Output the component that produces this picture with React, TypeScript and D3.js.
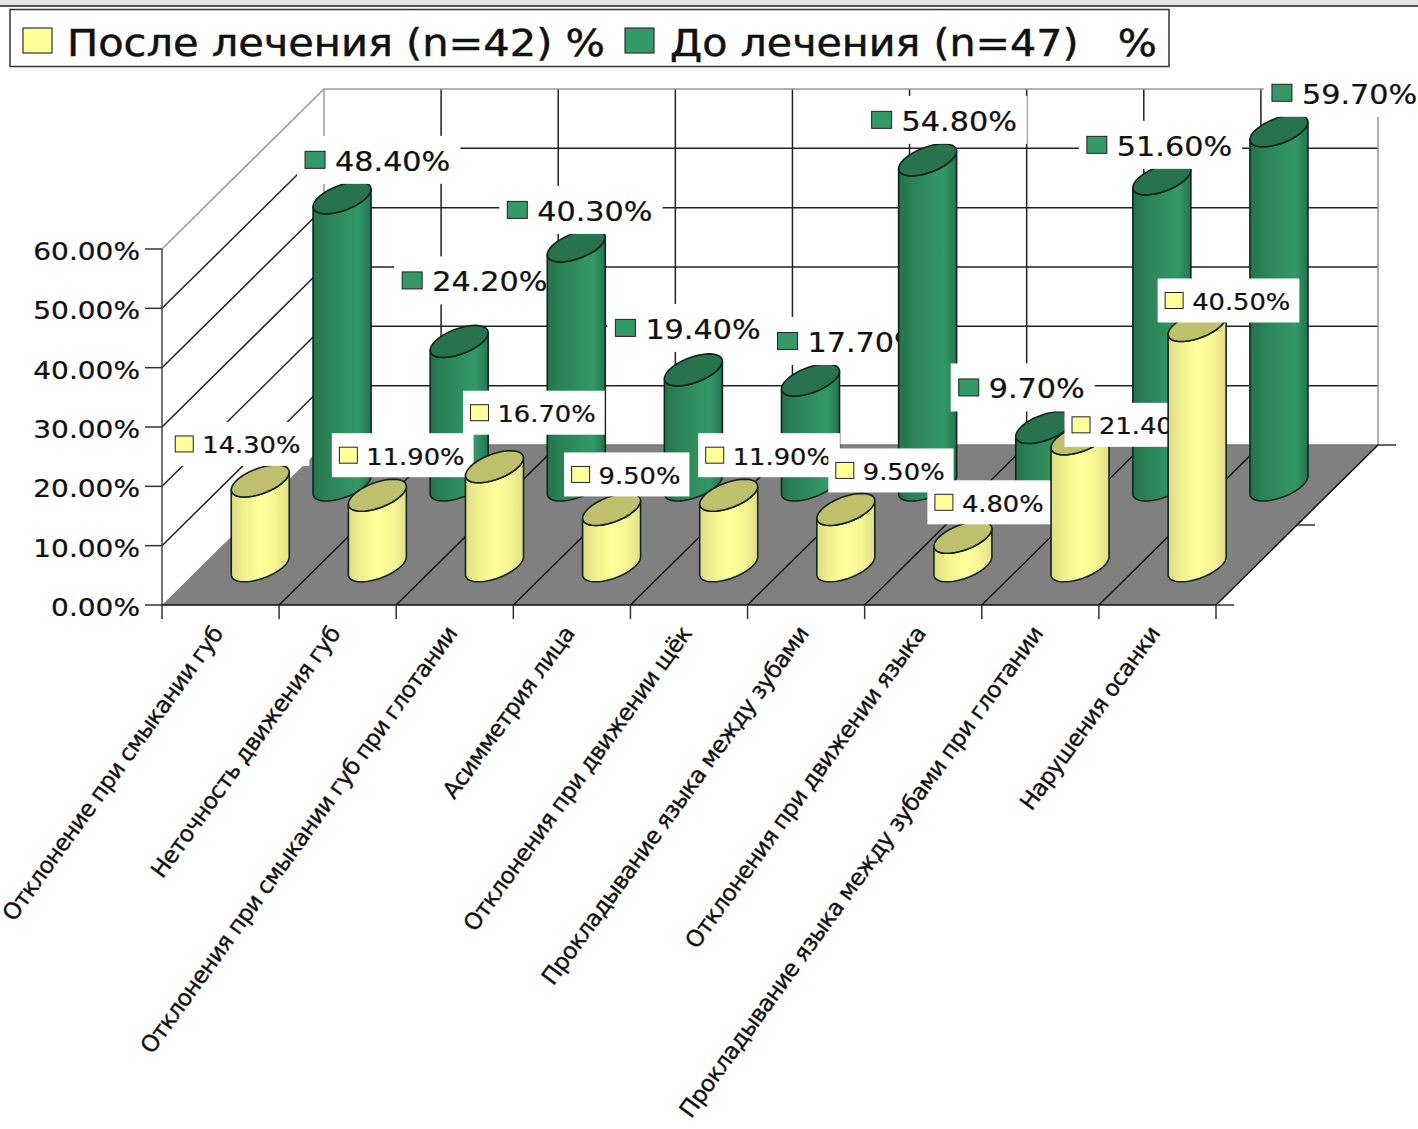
import React from "react";
import * as d3 from "d3";

const categories = [
  "Отклонение при смыкании губ",
  "Неточность движения губ",
  "Отклонения при смыкании губ при глотании",
  "Асимметрия лица",
  "Отклонения при движении щёк",
  "Прокладывание языка между зубами",
  "Отклонения при движении языка",
  "Прокладывание языка между зубами при глотании",
  "Нарушения осанки",
];
const afterValues = [14.3, 11.9, 16.7, 9.5, 11.9, 9.5, 4.8, 21.4, 40.5];
const beforeValues = [48.4, 24.2, 40.3, 19.4, 17.7, 54.8, 9.7, 51.6, 59.7];
const afterName = "После лечения (n=42) %";
const beforeName = "До лечения (n=47)   %";
const valueTicks = [0, 10, 20, 30, 40, 50, 60];

// Hand-placed data label offsets from the top centre of each cylinder.
const afterLabelDx = [-76, -29, -15, -31, -14, -1, -19, 1, -23];
const afterLabelDy = [-37, -40, -54, -35, -40, -39, -35, -14, -25];
const beforeLabelDx = [-27, -47, -59, -68, -23, -46, -76, -65, 3];
const beforeLabelDy = [-38, -61, -36, -42, -39, -40, -40, -34, -38];

const WIDTH = 1418;
const HEIGHT = 1129;
const FONT = "'DejaVu Sans', sans-serif";
const STRETCH = 1.12;

// Oblique projection of the chart box: category, depth and value axes.
const xFront = d3.scaleLinear().domain([0, categories.length]).range([162, 1216]);
const depthX = d3.scaleLinear().domain([0, 1]).range([0, 162]);
const depthY = d3.scaleLinear().domain([0, 1]).range([605, 445]);
const valueH = d3.scaleLinear().domain([0, 60]).range([0, 356]);

const project = (cat: number, depth: number, value: number): [number, number] => [
  xFront(cat) + depthX(depth),
  depthY(depth) - valueH(value),
];
const pathOf = d3.line();
const seg = (a: [number, number], b: [number, number]) => pathOf([a, b]) as string;

const ELL_R = 29;
const ELL_B = 16;
const ELL_A = Math.sqrt(ELL_R * ELL_R - ELL_B * ELL_B);
const T0 = Math.atan2(ELL_B, ELL_A);
const ellipsePoint = (c: [number, number], t: number): [number, number] => [
  c[0] + ELL_A * Math.cos(t) + ELL_B * Math.sin(t),
  c[1] - ELL_B * Math.sin(t),
];
const arc = (c: [number, number], from: number, to: number) =>
  d3.range(0, 41).map((k) => ellipsePoint(c, from + ((to - from) * k) / 40));

function Cylinder({ cat, depth, value, id, top }: { cat: number; depth: number; value: number; id: string; top: string }) {
  const base = project(cat + 0.5, depth, 0);
  const head = project(cat + 0.5, depth, value);
  const side = [...arc(base, T0 - Math.PI, T0), ...arc(head, T0, T0 - Math.PI)];
  const lid = arc(head, 0, Math.PI * 2);
  return (
    <g stroke="#10241a" strokeWidth={1.6} strokeLinejoin="round">
      <path d={pathOf(side) + "Z"} fill={`url(#${id})`} />
      <path d={pathOf(lid) + "Z"} fill={top} />
    </g>
  );
}

function StretchedText({ x, y, size, anchor, children }: { x: number; y: number; size: number; anchor?: string; children: React.ReactNode }) {
  return (
    <text
      transform={`translate(${x},${y}) scale(${STRETCH},1)`}
      fontFamily={FONT}
      fontSize={size}
      fill="#111"
      stroke="#111"
      strokeWidth={0.25}
      textAnchor={anchor ?? "start"}
    >
      {children}
    </text>
  );
}

function DataLabel({ cat, depth, value, dx, dy, big, fill }: { cat: number; depth: number; value: number; dx: number; dy: number; big: boolean; fill: string }) {
  const head = project(cat + 0.5, depth, value);
  const cx = head[0] + dx;
  const cy = head[1] + dy;
  const text = d3.format(".2f")(value) + "%";
  const size = big ? 27 : 23;
  const digits = text.length - 2;
  const textW = (digits * 0.636 + 0.318 + 0.95) * size * STRETCH;
  const textX = cx + (big ? 20 : 18);
  const left = cx - (big ? 18 : 16.5);
  const right = textX + textW + (big ? 10 : 9);
  const boxH = big ? 48 : 44;
  const mw = big ? 20 : 18;
  const mh = big ? 17 : 16;
  return (
    <g>
      <rect x={left} y={cy - boxH / 2} width={right - left} height={boxH} fill="#fff" />
      <rect x={cx - mw / 2} y={cy - mh / 2} width={mw} height={mh} fill={fill} stroke="#222" strokeWidth={1} />
      <StretchedText x={textX} y={cy + size * 0.37 + 1} size={size}>{text}</StretchedText>
    </g>
  );
}

export default function App() {
  const midDepths = [0.5];
  const floor = [project(0, 0, 0), project(categories.length, 0, 0), project(categories.length, 1, 0), project(0, 1, 0)];
  const n = categories.length;
  return (
    <svg width={WIDTH} height={HEIGHT} viewBox={`0 0 ${WIDTH} ${HEIGHT}`} style={{ position: "absolute", left: 0, top: 0, background: "#fff" }}>
      <defs>
        <linearGradient id="afterSide" x1="0" x2="1" y1="0" y2="0">
          <stop offset="0" stopColor="#dcdc82" />
          <stop offset="0.18" stopColor="#eeee8e" />
          <stop offset="0.5" stopColor="#ffff99" />
          <stop offset="0.78" stopColor="#f6f694" />
          <stop offset="1" stopColor="#e0e084" />
        </linearGradient>
        <linearGradient id="beforeSide" x1="0" x2="1" y1="0" y2="0">
          <stop offset="0" stopColor="#22734c" />
          <stop offset="0.2" stopColor="#2a8055" />
          <stop offset="0.55" stopColor="#2f8f5f" />
          <stop offset="0.78" stopColor="#339966" />
          <stop offset="1" stopColor="#237550" />
        </linearGradient>
      </defs>

      {/* window strip above the chart */}
      <rect x={0} y={0} width={WIDTH} height={5} fill="#e6e6e6" />
      <rect x={0} y={5} width={WIDTH} height={2} fill="#555" />

      {/* legend */}
      <rect x={10} y={9.5} width={1159} height={57} fill="#fff" stroke="#333" strokeWidth={1.5} />
      <rect x={23} y={28} width={29} height={25} fill="#ffff99" stroke="#333" strokeWidth={1.2} />
      <text x={67} y={56} fontFamily={FONT} fontSize={37} fill="#111" stroke="#111" strokeWidth={0.5} textLength={538} lengthAdjust="spacingAndGlyphs">{afterName}</text>
      <rect x={625} y={28} width={29} height={25} fill="#339966" stroke="#333" strokeWidth={1.2} />
      <text x={670} y={56} fontFamily={FONT} fontSize={37} fill="#111" stroke="#111" strokeWidth={0.5} textLength={487} lengthAdjust="spacingAndGlyphs" style={{ whiteSpace: "pre" }}>{beforeName}</text>

      {/* floor */}
      <path d={pathOf(floor) + "Z"} fill="#808080" />

      {/* back wall and side wall grid */}
      {valueTicks.slice(1, -1).map((v) => (
        <g key={v} stroke="#222" strokeWidth={1.5}>
          <path d={seg(project(0, 1, v), project(n, 1, v))} />
          <path d={seg(project(0, 0, v), project(0, 1, v))} />
        </g>
      ))}
      {d3.range(1, n).map((i) => (
        <path key={i} d={seg(project(i, 1, 0), project(i, 1, 60))} stroke="#222" strokeWidth={1.5} />
      ))}
      <g stroke="#999" strokeWidth={1.5} fill="none">
        <path d={pathOf([project(0, 0, 60), project(0, 1, 60), project(n, 1, 60), project(n, 1, 0)]) as string} />
        <path d={seg(project(0, 1, 0), project(0, 1, 60))} />
      </g>
      <path d={seg(project(0, 0, 0), project(0, 0, 60))} stroke="#444" strokeWidth={1.5} />
      <path d={seg(project(0, 1, 0), project(n, 1, 0))} stroke="#777" strokeWidth={1.5} />

      {/* floor grid, category ticks and depth ticks */}
      {d3.range(1, n).map((i) => (
        <path key={i} d={seg(project(i, 0, 0), project(i, 1, 0))} stroke="#111" strokeWidth={1.5} />
      ))}
      <path d={seg(project(n, 0, 0), project(n, 1, 0))} stroke="#111" strokeWidth={1.5} />
      <path d={seg(project(0, 0, 0), project(n, 0, 0))} stroke="#111" strokeWidth={1.5} />
      {d3.range(0, n + 1).map((i) => {
        const p = project(i, 0, 0);
        return <path key={i} d={seg(p, [p[0], p[1] + 14])} stroke="#333" strokeWidth={1.5} />;
      })}
      {[0, ...midDepths, 1].map((d) => {
        const p = project(n, d, 0);
        return <path key={d} d={seg(p, [p[0] + 18, p[1]])} stroke="#333" strokeWidth={1.5} />;
      })}

      {/* value axis */}
      {valueTicks.map((v) => {
        const p = project(0, 0, v);
        return (
          <g key={v}>
            <path d={seg([p[0] - 17, p[1]], p)} stroke="#333" strokeWidth={1.5} />
            <StretchedText x={p[0] - 22} y={p[1] + 11} size={25} anchor="end">{d3.format(".2f")(v) + "%"}</StretchedText>
          </g>
        );
      })}

      {/* back row: each cylinder paints over the previous label */}
      {beforeValues.map((v, i) => (
        <g key={i}>
          <Cylinder cat={i} depth={0.75} value={v} id="beforeSide" top="#26734d" />
          <DataLabel cat={i} depth={0.75} value={v} dx={beforeLabelDx[i]} dy={beforeLabelDy[i]} big fill="#339966" />
        </g>
      ))}

      {/* front row */}
      {afterValues.map((v, i) => (
        <g key={i}>
          <Cylinder cat={i} depth={0.245} value={v} id="afterSide" top="#bfbf6c" />
          <DataLabel cat={i} depth={0.245} value={v} dx={afterLabelDx[i]} dy={afterLabelDy[i]} big={false} fill="#ffff99" />
        </g>
      ))}

      {/* category labels */}
      {categories.map((c, i) => {
        const p = project(i + 0.5, 0, 0);
        return (
          <text
            key={c}
            transform={`translate(${p[0] - 3},${p[1] + 24}) rotate(-54)`}
            fontFamily={FONT}
            fontSize={23}
            fill="#111"
            stroke="#111"
            strokeWidth={0.35}
            textAnchor="end"
            dominantBaseline="central"
            letterSpacing={-0.65}
          >
            {c}
          </text>
        );
      })}
    </svg>
  );
}
